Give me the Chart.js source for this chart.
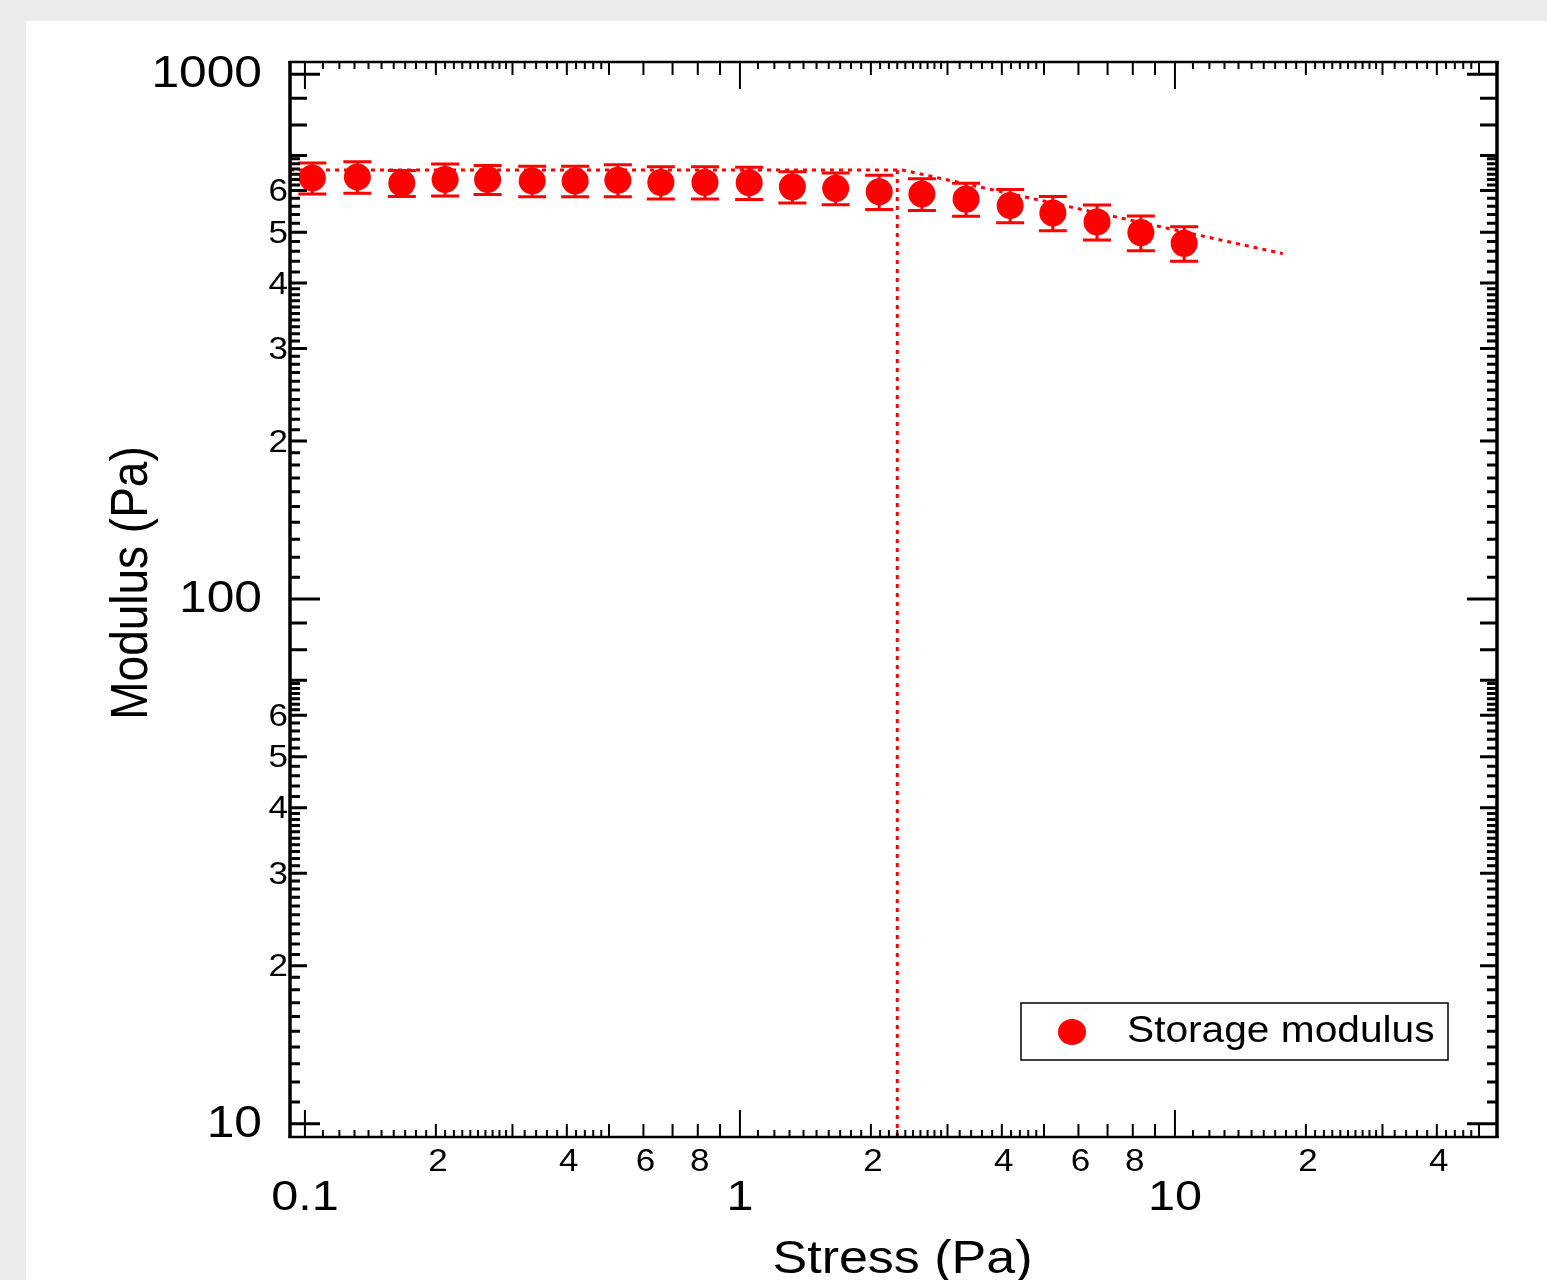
<!DOCTYPE html>
<html>
<head>
<meta charset="utf-8">
<script src="https://cdn.jsdelivr.net/npm/chart.js@4.4.0/dist/chart.umd.min.js"></script>
<style>
  html, body { margin: 0; padding: 0; background: #ebebeb; overflow: hidden; }
  #panel { position: absolute; left: 26px; top: 21px; width: 1521px; height: 1259px; background: #fff; }
</style>
</head>
<body>
<div id="panel"><canvas id="modChart"></canvas></div>
<script>
// measured points (stress sweep)
const stressPa = [0.104, 0.132, 0.167, 0.210, 0.263, 0.333, 0.418, 0.524, 0.658, 0.831,
                  1.05, 1.32, 1.66, 2.09, 2.62, 3.31, 4.18, 5.24, 6.62, 8.35, 10.5];
const storageModulus = [634, 637, 620, 630, 630, 626, 626, 628, 622, 622,
                        621, 610, 606, 597, 591, 578, 562, 544, 523, 499, 476];
const modulusErr = [43, 44, 35, 44, 40, 42, 42, 44, 44, 44,
                    44, 42, 42, 45, 41, 42, 41, 41, 40, 38, 36];

// dotted guide lines
const fitStress = [0.0924, 2.36, 17.7];
const fitModulus = [657, 657, 455];
const yieldStress = [2.30, 2.30];
const yieldModulus = [657, 9.43];

// axis ranges
const xMin = 0.0924, xMax = 55;
const yMin = 9.43, yMax = 1055;

// tick positions
const xMajorTicks = [0.1, 1, 10];
const xMajorLabels = ['0.1', '1', '10'];
const xDecades = [0.1, 1, 10];
const xMediumMant = [2, 3, 4, 5, 6, 7, 8, 9];
const xMinorMant = [1.1, 1.2, 1.3, 1.4, 1.5, 1.6, 1.7, 1.8, 1.9,
                    2.1, 2.2, 2.3, 2.4, 2.5, 2.6, 2.7, 2.8, 2.9,
                    3.2, 3.4, 3.6, 3.8, 4.2, 4.4, 4.6, 4.8];
const xMinorLabelMant = [2, 4, 6, 8];

const yMajorTicks = [10, 100, 1000];
const yMajorLabels = ['10', '100', '1000'];
const yDecades = [10, 100];
const yMediumMant = [2, 3, 4, 5, 6, 7, 8, 9];
const yMinorMant = [1.1, 1.2, 1.3, 1.4, 1.5, 1.6, 1.7, 1.8, 1.9,
                    2.1, 2.2, 2.3, 2.4, 2.5, 2.6, 2.7, 2.8, 2.9,
                    3.1, 3.2, 3.3, 3.4, 3.5, 3.6, 3.7, 3.8, 3.9,
                    4.2, 4.4, 4.6, 4.8, 5.2, 5.4, 5.6, 5.8,
                    6.15, 6.3, 6.45, 6.6, 6.75, 6.9];
const yMinorLabelMant = [2, 3, 4, 5, 6];

const RED = '#ff0000';
const FONT = "'Liberation Sans', Arial, sans-serif";
const STRETCH = 1.13;

function drawText(ctx, str, x, y, size, align, rot) {
    ctx.save();
    ctx.translate(x, y);
    ctx.scale(STRETCH, 1);
    if (rot) ctx.rotate(rot);
    ctx.font = size + 'px ' + FONT;
    ctx.fillStyle = '#000';
    ctx.textAlign = align;
    ctx.textBaseline = 'middle';
    ctx.fillText(str, 0, 0);
    ctx.restore();
}

function spread(decades, mant) {
    const out = [];
    decades.forEach(d => mant.forEach(m => out.push(+(d * m).toPrecision(6))));
    return out;
}

const axesPlugin = {
    id: 'axesPlugin',
    beforeDatasetsDraw(chart) {
        // error bars
        const ctx = chart.ctx, xs = chart.scales.x, ys = chart.scales.y;
        ctx.save();
        ctx.strokeStyle = RED;
        stressPa.forEach((s, i) => {
            const px = xs.getPixelForValue(s);
            const top = ys.getPixelForValue(storageModulus[i] + modulusErr[i]);
            const bot = ys.getPixelForValue(storageModulus[i] - modulusErr[i]);
            ctx.lineWidth = 3;
            ctx.beginPath();
            ctx.moveTo(px, top); ctx.lineTo(px, bot);
            ctx.stroke();
            ctx.lineWidth = 3;
            ctx.beginPath();
            ctx.moveTo(px - 14, top); ctx.lineTo(px + 14, top);
            ctx.moveTo(px - 14, bot); ctx.lineTo(px + 14, bot);
            ctx.stroke();
        });
        ctx.restore();
    },
    afterDatasetsDraw(chart) {
        const ctx = chart.ctx, xs = chart.scales.x, ys = chart.scales.y;
        const a = chart.chartArea;
        ctx.save();
        ctx.strokeStyle = '#000';
        ctx.lineCap = 'butt';

        const tickX = (vals, len, w) => {
            ctx.lineWidth = w;
            ctx.beginPath();
            vals.forEach(v => {
                const p = xs.getPixelForValue(v);
                if (p < a.left || p > a.right) return;
                ctx.moveTo(p, a.bottom); ctx.lineTo(p, a.bottom - len);
                ctx.moveTo(p, a.top); ctx.lineTo(p, a.top + len);
            });
            ctx.stroke();
        };
        const tickY = (vals, len, w) => {
            ctx.lineWidth = w;
            ctx.beginPath();
            vals.forEach(v => {
                const p = ys.getPixelForValue(v);
                if (p < a.top || p > a.bottom) return;
                ctx.moveTo(a.left, p); ctx.lineTo(a.left + len, p);
                ctx.moveTo(a.right, p); ctx.lineTo(a.right - len, p);
            });
            ctx.stroke();
        };

        tickX(spread(xDecades, xMinorMant), 7, 2);
        tickX(spread(xDecades, xMediumMant), 13, 2);
        tickX(xMajorTicks, 27, 2);
        tickY(spread(yDecades, yMinorMant), 10, 3);
        tickY(spread(yDecades, yMediumMant), 17, 3);
        tickY(yMajorTicks, 30, 3);

        // frame
        ctx.lineWidth = 2.5;
        ctx.beginPath();
        ctx.moveTo(a.left - 1.5, a.top); ctx.lineTo(a.right + 1.5, a.top);
        ctx.moveTo(a.left - 1.5, a.bottom); ctx.lineTo(a.right + 1.5, a.bottom);
        ctx.stroke();
        ctx.lineWidth = 3.5;
        ctx.beginPath();
        ctx.moveTo(a.left, a.top - 1); ctx.lineTo(a.left, a.bottom + 1);
        ctx.moveTo(a.right, a.top - 1); ctx.lineTo(a.right, a.bottom + 1);
        ctx.stroke();
        ctx.restore();
    },
    afterDraw(chart) {
        const ctx = chart.ctx, xs = chart.scales.x, ys = chart.scales.y;
        const a = chart.chartArea;

        // y labels
        yMajorTicks.forEach((v, i) => drawText(ctx, yMajorLabels[i], a.left - 28, ys.getPixelForValue(v) + 1, 44, 'right'));
        spread(yDecades, yMinorLabelMant).forEach(v => {
            const lab = String(Math.round(v / Math.pow(10, Math.floor(Math.log10(v) + 1e-9))));
            drawText(ctx, lab, a.left - 2, ys.getPixelForValue(v) + 2, 31, 'right');
        });

        // x labels
        xMajorTicks.forEach((v, i) => drawText(ctx, xMajorLabels[i], xs.getPixelForValue(v), a.bottom + 61, 43, 'center'));
        spread(xDecades, xMinorLabelMant).forEach(v => {
            const p = xs.getPixelForValue(v);
            if (p > a.right) return;
            const lab = String(Math.round(v / Math.pow(10, Math.floor(Math.log10(v) + 1e-9))));
            drawText(ctx, lab, p + 2, a.bottom + 25, 31, 'center');
        });

        // axis titles
        drawText(ctx, 'Stress (Pa)', (a.left + a.right) / 2 + 9, a.bottom + 123, 46, 'center');
        drawText(ctx, 'Modulus (Pa)', 107, 562, 46, 'center', -Math.PI / 2);

        // legend box
        const ds = chart.data.datasets[0];
        const lx = 995, ly = 982, lw = 427, lh = 57;
        ctx.save();
        ctx.strokeStyle = '#000';
        ctx.lineWidth = 1.5;
        ctx.strokeRect(lx, ly, lw, lh);
        ctx.fillStyle = ds.backgroundColor;
        ctx.beginPath();
        ctx.ellipse(lx + 51, ly + 29, 14, 13, 0, 0, Math.PI * 2);
        ctx.fill();
        ctx.restore();
        drawText(ctx, ds.label, lx + 106, ly + 29, 36, 'left');
    }
};

new Chart(document.getElementById('modChart'), {
    type: 'scatter',
    data: {
        datasets: [
            {
                label: 'Storage modulus',
                data: stressPa.map((s, i) => ({ x: s, y: storageModulus[i] })),
                backgroundColor: RED,
                borderWidth: 0,
                pointRadius: 13.5,
                order: 1
            },
            {
                label: 'fit',
                data: fitStress.map((s, i) => ({ x: s, y: fitModulus[i] })),
                showLine: true,
                borderColor: RED,
                borderWidth: 3,
                borderDash: [4, 5],
                pointRadius: 0,
                order: 2
            },
            {
                label: 'yield',
                data: yieldStress.map((s, i) => ({ x: s, y: yieldModulus[i] })),
                showLine: true,
                borderColor: RED,
                borderWidth: 3,
                borderDash: [4, 5],
                pointRadius: 0,
                order: 3
            }
        ]
    },
    options: {
        responsive: true,
        maintainAspectRatio: false,
        animation: false,
        layout: { padding: { left: 264, right: 50, top: 41, bottom: 143 } },
        plugins: { legend: { display: false }, tooltip: { enabled: false } },
        scales: {
            x: { type: 'logarithmic', min: xMin, max: xMax, display: false },
            y: { type: 'logarithmic', min: yMin, max: yMax, display: false }
        }
    },
    plugins: [axesPlugin]
});
</script>
</body>
</html>
